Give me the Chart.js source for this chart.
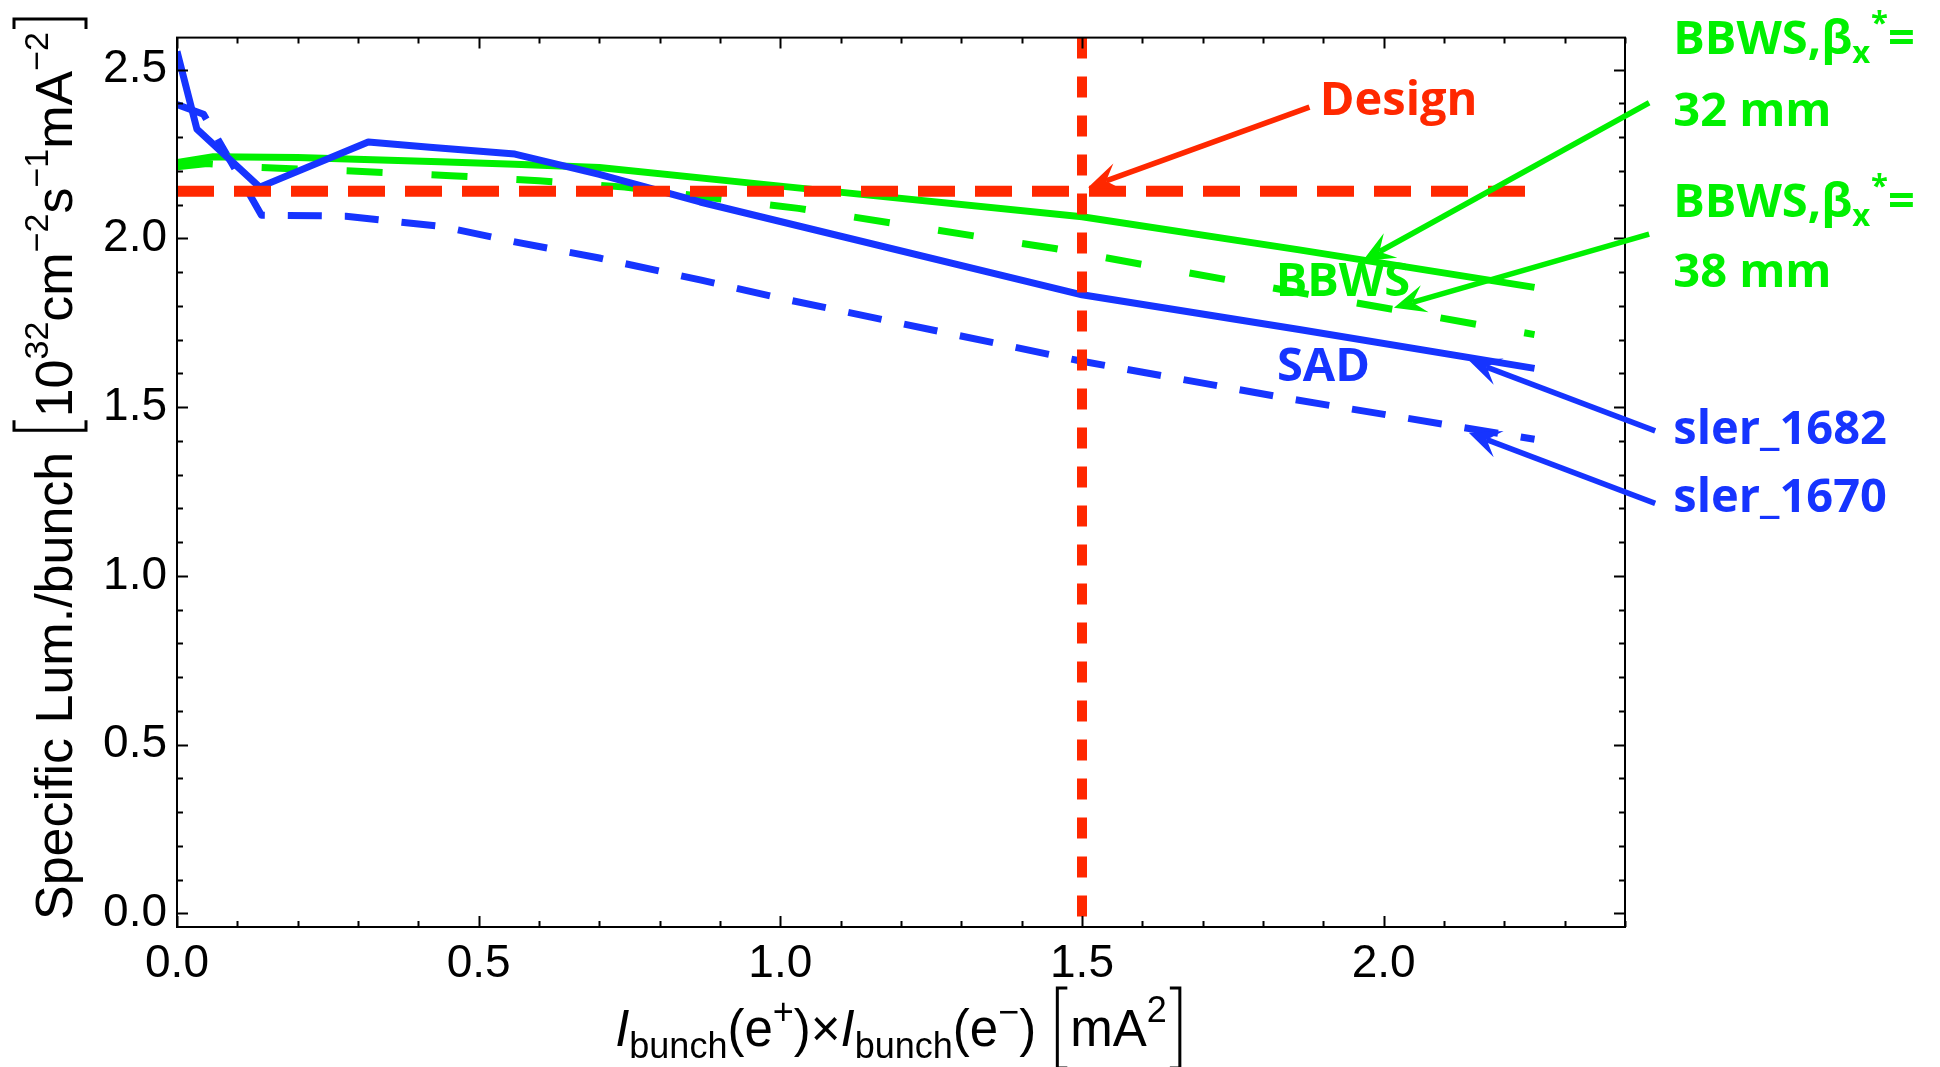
<!DOCTYPE html>
<html>
<head>
<meta charset="utf-8">
<script src="https://cdn.jsdelivr.net/npm/chart.js@4.4.0/dist/chart.umd.min.js"></script>
<style>
  html, body { margin: 0; padding: 0; background: #fff; }
  canvas { display: block; }
</style>
</head>
<body>
<canvas id="lumChart" width="1940" height="1067"></canvas>
<script>
// values: x = Ibunch(e+) x Ibunch(e-) [mA^2], y = specific lumi per bunch
var sler1682X = [0, 0.033, 0.137, 0.317, 0.419, 0.56, 0.70, 0.867, 1.5, 1.86, 2.25];
var sler1682Y = [2.554, 2.324, 2.152, 2.286, 2.27, 2.25, 2.19, 2.108, 1.833, 1.73, 1.615];

var sler1670X = [0, 0.044, 0.14, 0.28, 0.336, 0.44, 0.56, 0.70, 0.867, 1.0, 1.5, 1.847, 2.25];
var sler1670Y = [2.397, 2.368, 2.069, 2.066, 2.055, 2.035, 1.99, 1.942, 1.877, 1.823, 1.636, 1.524, 1.405];

var bbws32X = [0, 0.06, 0.2, 0.435, 0.56, 0.70, 1.0, 1.5, 1.86, 2.25];
var bbws32Y = [2.225, 2.242, 2.24, 2.227, 2.22, 2.21, 2.155, 2.064, 1.966, 1.855];

var bbws38X = [0, 0.05, 0.14, 0.29, 0.454, 0.6, 0.742, 1.03, 1.455, 1.742, 2.25];
var bbws38Y = [2.212, 2.222, 2.21, 2.2, 2.186, 2.171, 2.152, 2.089, 1.97, 1.877, 1.715];

var designX = [0, 2.25];
var designY = [2.14, 2.14];
var designCurX = [1.5, 1.5];
var designCurY = [2.595, -0.04];

var xTicks = [0, 0.5, 1.0, 1.5, 2.0];
var yTicks = [0, 0.5, 1.0, 1.5, 2.0, 2.5];

var blue = 'rgb(22,52,255)';
var green = 'rgb(0,240,0)';
var red = 'rgb(255,40,0)';

function pts(xs, ys) {
    return xs.map(function (x, i) { return { x: x, y: ys[i] }; });
}

// text labels + arrows (data coordinates)
var notes = [
    { text: 'Design', color: red, x: 1.894, y: 2.366 },
    { text: 'BBWS', color: green, x: 1.821, y: 1.83 },
    { text: 'SAD', color: blue, x: 1.823, y: 1.577 },
    { text: 'beta', color: green, x: 2.48, y: 2.545 },
    { text: '32 mm', color: green, x: 2.48, y: 2.333 },
    { text: 'beta', color: green, x: 2.48, y: 2.063 },
    { text: '38 mm', color: green, x: 2.48, y: 1.857 },
    { text: 'sler_1682', color: blue, x: 2.48, y: 1.392 },
    { text: 'sler_1670', color: blue, x: 2.48, y: 1.189 }
];
var arrows = [
    { color: red, from: [1.877, 2.389], to: [1.51, 2.151] },
    { color: green, from: [2.44, 2.402], to: [1.965, 1.933] },
    { color: green, from: [2.44, 2.013], to: [2.017, 1.795] },
    { color: blue, from: [2.45, 1.430], to: [2.141, 1.639] },
    { color: blue, from: [2.45, 1.215], to: [2.141, 1.424] }
];

var axisFont = '"Liberation Sans", Arial, sans-serif';
var noteFont = '"Open Sans", sans-serif';

// rich text: parts = {t, s (size), dy, it} or {br:'[' / ']'}
function richWidth(ctx, parts) {
    var w = 0;
    parts.forEach(function (p) {
        if (p.br) { w += p.w; return; }
        ctx.font = (p.it ? 'italic ' : '') + p.s + 'px ' + axisFont;
        w += ctx.measureText(p.t).width;
    });
    return w;
}
function richDraw(ctx, parts, x, y) {
    var cx = x;
    parts.forEach(function (p) {
        if (p.br) {
            ctx.save();
            ctx.lineWidth = 3;
            ctx.strokeStyle = '#000';
            ctx.beginPath();
            var a = p.br === '[' ? cx + p.w * 0.85 : cx + p.w * 0.15;
            var b = p.br === '[' ? cx + p.w * 0.35 : cx + p.w * 0.65;
            ctx.moveTo(a, y - p.up);
            ctx.lineTo(b, y - p.up);
            ctx.lineTo(b, y + p.down);
            ctx.lineTo(a, y + p.down);
            ctx.stroke();
            ctx.restore();
            cx += p.w;
            return;
        }
        ctx.font = (p.it ? 'italic ' : '') + p.s + 'px ' + axisFont;
        ctx.fillText(p.t, cx, y + (p.dy || 0));
        cx += ctx.measureText(p.t).width;
    });
}

function drawArrow(ctx, x1, y1, x2, y2, color) {
    var ang = Math.atan2(y2 - y1, x2 - x1);
    var len = 32, wid = 14;
    ctx.strokeStyle = color;
    ctx.fillStyle = color;
    ctx.lineWidth = 5.5;
    ctx.beginPath();
    ctx.moveTo(x1, y1);
    ctx.lineTo(x2 - Math.cos(ang) * len * 0.6, y2 - Math.sin(ang) * len * 0.6);
    ctx.stroke();
    ctx.save();
    ctx.translate(x2, y2);
    ctx.rotate(ang);
    ctx.beginPath();
    ctx.moveTo(0, 0);
    ctx.lineTo(-len, -wid);
    ctx.lineTo(-len * 0.6, 0);
    ctx.lineTo(-len, wid);
    ctx.closePath();
    ctx.fill();
    ctx.restore();
}

var decor = {
    id: 'decor',
    afterDatasetsDraw: function (chart) {
        var ctx = chart.ctx, a = chart.chartArea;
        var xs = chart.scales.x, ys = chart.scales.y;
        ctx.save();
        ctx.strokeStyle = '#000';
        ctx.lineWidth = 2;
        ctx.strokeRect(a.left, a.top, a.right - a.left, a.bottom - a.top);

        // inward tick marks on all four sides
        ctx.beginPath();
        for (var i = 0; i <= 24; i++) {
            var v = i / 10;
            var major = i % 5 === 0;
            var len = major ? 11 : 6;
            var px = Math.round(xs.getPixelForValue(v)) + 0.5;
            ctx.moveTo(px, a.bottom); ctx.lineTo(px, a.bottom - len);
            ctx.moveTo(px, a.top); ctx.lineTo(px, a.top + len);
        }
        for (var j = 0; j <= 25; j++) {
            var w = j / 10;
            var majorY = j % 5 === 0;
            var lenY = majorY ? 11 : 6;
            var py = Math.round(ys.getPixelForValue(w)) + 0.5;
            ctx.moveTo(a.left, py); ctx.lineTo(a.left + lenY, py);
            ctx.moveTo(a.right, py); ctx.lineTo(a.right - lenY, py);
        }
        ctx.stroke();
        ctx.restore();
    },
    afterDraw: function (chart) {
        var ctx = chart.ctx, a = chart.chartArea;
        var xs = chart.scales.x, ys = chart.scales.y;
        ctx.save();
        ctx.fillStyle = '#000';
        ctx.textBaseline = 'alphabetic';
        ctx.textAlign = 'left';

        // x axis title
        var F = 51, S = 36;
        var xParts = [
            { t: 'I', s: F, it: true }, { t: 'bunch', s: S, dy: 12 },
            { t: '(e', s: F }, { t: '+', s: S, dy: -22 }, { t: ')\u00d7', s: F },
            { t: 'I', s: F, it: true }, { t: 'bunch', s: S, dy: 12 },
            { t: '(e', s: F }, { t: '\u2212', s: S, dy: -22 }, { t: ') ', s: F },
            { br: '[', w: 20, up: 58, down: 22 }, { t: 'mA', s: F }, { t: '2', s: S, dy: -24 },
            { br: ']', w: 20, up: 58, down: 22 }
        ];
        var xw = richWidth(ctx, xParts);
        richDraw(ctx, xParts, (a.left + a.right) / 2 - xw / 2, 1046);

        // y axis title (rotated)
        var yF = 52, yS = 34;
        var yParts = [
            { t: 'Specific Lum./bunch ', s: yF },
            { br: '[', w: 20, up: 58, down: 14 },
            { t: '10', s: yF }, { t: '32', s: yS, dy: -24 },
            { t: 'cm', s: yF }, { t: '\u22122', s: yS, dy: -24 },
            { t: 's', s: yF }, { t: '\u22121', s: yS, dy: -24 },
            { t: 'mA', s: yF }, { t: '\u22122', s: yS, dy: -24 },
            { br: ']', w: 20, up: 58, down: 14 }
        ];
        ctx.save();
        ctx.translate(72, 920);
        ctx.rotate(-Math.PI / 2);
        richDraw(ctx, yParts, 0, 0);
        ctx.restore();

        // arrows
        arrows.forEach(function (ar) {
            drawArrow(ctx,
                xs.getPixelForValue(ar.from[0]), ys.getPixelForValue(ar.from[1]),
                xs.getPixelForValue(ar.to[0]), ys.getPixelForValue(ar.to[1]), ar.color);
        });

        // labels
        var NF = 47;
        notes.forEach(function (n) {
            var px = xs.getPixelForValue(n.x), py = ys.getPixelForValue(n.y);
            ctx.fillStyle = n.color;
            if (n.text === 'beta') {
                ctx.font = 'bold ' + NF + 'px ' + noteFont;
                ctx.fillText('BBWS,\u03b2', px, py);
                var cx = px + ctx.measureText('BBWS,\u03b2').width;
                ctx.font = 'bold 31px ' + noteFont;
                ctx.fillText('x', cx, py + 9);
                cx += ctx.measureText('x').width + 1;
                ctx.fillText('*', cx, py - 21);
                cx += ctx.measureText('*').width;
                ctx.font = 'bold ' + NF + 'px ' + noteFont;
                ctx.fillText('=', cx, py);
            } else {
                ctx.font = 'bold ' + NF + 'px ' + noteFont;
                ctx.fillText(n.text, px, py);
            }
        });
        ctx.restore();
    }
};

var ctx = document.getElementById('lumChart').getContext('2d');
var lumChart = new Chart(ctx, {
    type: 'scatter',
    data: {
        datasets: [
            { label: 'Design', data: pts(designX, designY), borderColor: red, borderWidth: 11, borderDash: [37, 20] },
            { label: 'Design current', data: pts(designCurX, designCurY), borderColor: red, borderWidth: 10, borderDash: [21, 18] },
            { label: 'sler_1682', data: pts(sler1682X, sler1682Y), borderColor: blue, borderWidth: 7 },
            { label: 'BBWS 32 mm', data: pts(bbws32X, bbws32Y), borderColor: green, borderWidth: 7 },
            { label: 'sler_1670', data: pts(sler1670X, sler1670Y), borderColor: blue, borderWidth: 7, borderDash: [34, 23] },
            { label: 'BBWS 38 mm', data: pts(bbws38X, bbws38Y), borderColor: green, borderWidth: 7, borderDash: [36, 49] }
        ]
    },
    options: {
        responsive: false,
        devicePixelRatio: 1,
        animation: false,
        layout: { padding: { top: 31, right: 315, bottom: 0, left: 0 } },
        elements: {
            line: { tension: 0, borderCapStyle: 'butt', borderJoinStyle: 'round', fill: false },
            point: { radius: 0, hoverRadius: 0 }
        },
        datasets: { scatter: { showLine: true } },
        plugins: { legend: { display: false }, tooltip: { enabled: false } },
        scales: {
            x: {
                type: 'linear', min: 0, max: 2.4,
                afterBuildTicks: function (s) { s.ticks = xTicks.map(function (v) { return { value: v }; }); },
                afterFit: function (s) { s.height = 140; },
                grid: { display: false, drawTicks: false },
                border: { display: false },
                ticks: {
                    color: '#000', padding: 10, maxRotation: 0, autoSkip: false,
                    font: { family: axisFont, size: 46 },
                    callback: function (v) { return Number(v).toFixed(1); }
                }
            },
            y: {
                type: 'linear', min: -0.04, max: 2.595,
                afterBuildTicks: function (s) { s.ticks = yTicks.map(function (v) { return { value: v }; }); },
                afterFit: function (s) { s.width = 177; },
                grid: { display: false, drawTicks: false },
                border: { display: false },
                ticks: {
                    color: '#000', padding: 10, autoSkip: false,
                    font: { family: axisFont, size: 46 },
                    callback: function (v) { return Number(v).toFixed(1); }
                }
            }
        }
    },
    plugins: [decor]
});
</script>
</body>
</html>
